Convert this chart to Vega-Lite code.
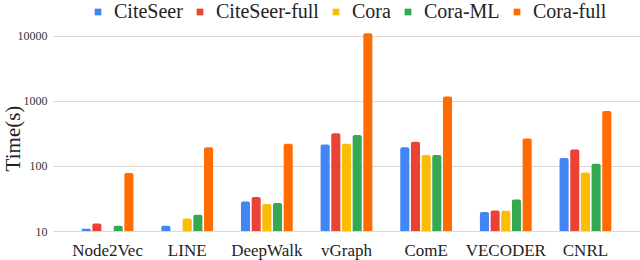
{
  "$schema": "https://vega.github.io/schema/vega-lite/v6.json",
  "width": 587,
  "height": 198,
  "autosize": {"type": "none"},
  "padding": {"left": 53, "top": 33, "right": 0, "bottom": 29},
  "background": "white",
  "config": {
    "view": {"stroke": null},
    "font": "Liberation Serif"
  },
  "data": {
    "values": [
      {"method": "Node2Vec", "dataset": "CiteSeer", "time": 10.8},
      {"method": "Node2Vec", "dataset": "CiteSeer-full", "time": 13},
      {"method": "Node2Vec", "dataset": "Cora", "time": 10},
      {"method": "Node2Vec", "dataset": "Cora-ML", "time": 12},
      {"method": "Node2Vec", "dataset": "Cora-full", "time": 78},
      {"method": "LINE", "dataset": "CiteSeer", "time": 12},
      {"method": "LINE", "dataset": "CiteSeer-full", "time": 10},
      {"method": "LINE", "dataset": "Cora", "time": 15.6},
      {"method": "LINE", "dataset": "Cora-ML", "time": 17.8},
      {"method": "LINE", "dataset": "Cora-full", "time": 194},
      {"method": "DeepWalk", "dataset": "CiteSeer", "time": 28.4},
      {"method": "DeepWalk", "dataset": "CiteSeer-full", "time": 33.2},
      {"method": "DeepWalk", "dataset": "Cora", "time": 26},
      {"method": "DeepWalk", "dataset": "Cora-ML", "time": 26.9},
      {"method": "DeepWalk", "dataset": "Cora-full", "time": 218},
      {"method": "vGraph", "dataset": "CiteSeer", "time": 213},
      {"method": "vGraph", "dataset": "CiteSeer-full", "time": 318},
      {"method": "vGraph", "dataset": "Cora", "time": 218},
      {"method": "vGraph", "dataset": "Cora-ML", "time": 297},
      {"method": "vGraph", "dataset": "Cora-full", "time": 10900},
      {"method": "ComE", "dataset": "CiteSeer", "time": 194},
      {"method": "ComE", "dataset": "CiteSeer-full", "time": 234},
      {"method": "ComE", "dataset": "Cora", "time": 147},
      {"method": "ComE", "dataset": "Cora-ML", "time": 147},
      {"method": "ComE", "dataset": "Cora-full", "time": 1160},
      {"method": "VECODER", "dataset": "CiteSeer", "time": 19.6},
      {"method": "VECODER", "dataset": "CiteSeer-full", "time": 20.7},
      {"method": "VECODER", "dataset": "Cora", "time": 20.5},
      {"method": "VECODER", "dataset": "Cora-ML", "time": 30.5},
      {"method": "VECODER", "dataset": "Cora-full", "time": 263},
      {"method": "CNRL", "dataset": "CiteSeer", "time": 132},
      {"method": "CNRL", "dataset": "CiteSeer-full", "time": 179},
      {"method": "CNRL", "dataset": "Cora", "time": 79},
      {"method": "CNRL", "dataset": "Cora-ML", "time": 108},
      {"method": "CNRL", "dataset": "Cora-full", "time": 700}
    ]
  },
  "mark": {"type": "bar", "cornerRadiusTopLeft": 2, "cornerRadiusTopRight": 2},
  "encoding": {
    "x": {
      "field": "method",
      "type": "nominal",
      "sort": ["Node2Vec", "LINE", "DeepWalk", "vGraph", "ComE", "VECODER", "CNRL"],
      "scale": {"paddingInner": 0.35, "paddingOuter": 0.36},
      "axis": {
        "title": null,
        "labelAngle": 0,
        "labelFont": "Liberation Serif",
        "labelFontSize": 17,
        "labelColor": "#222222",
        "labelPadding": 11,
        "ticks": false,
        "domain": false
      }
    },
    "xOffset": {
      "field": "dataset",
      "type": "nominal",
      "sort": ["CiteSeer", "CiteSeer-full", "Cora", "Cora-ML", "Cora-full"],
      "scale": {"paddingInner": 0.15}
    },
    "y": {
      "field": "time",
      "type": "quantitative",
      "stack": null,
      "scale": {"type": "log", "domain": [10, 11000], "nice": false},
      "axis": {
        "title": "Time(s)",
        "titleFont": "Liberation Serif",
        "titleFontSize": 21,
        "titleFontWeight": "normal",
        "titleColor": "#222222",
        "titleAngle": -90,
        "titleAlign": "center",
        "titleBaseline": "middle",
        "titleX": -40,
        "titleY": 105,
        "values": [10, 100, 1000, 10000],
        "format": "d",
        "labelFont": "Liberation Serif",
        "labelFontSize": 12,
        "labelColor": "#333333",
        "labelPadding": 6,
        "ticks": false,
        "domain": false,
        "grid": true,
        "gridColor": "#d9d9d9",
        "gridWidth": 1
      }
    },
    "color": {
      "field": "dataset",
      "type": "nominal",
      "sort": ["CiteSeer", "CiteSeer-full", "Cora", "Cora-ML", "Cora-full"],
      "scale": {
        "domain": ["CiteSeer", "CiteSeer-full", "Cora", "Cora-ML", "Cora-full"],
        "range": ["#4285F4", "#EA4335", "#FBBC04", "#34A853", "#FF6D01"]
      },
      "legend": {
        "title": null,
        "orient": "none",
        "direction": "horizontal",
        "legendX": 35,
        "legendY": -31,
        "symbolType": "square",
        "symbolSize": 45,
        "symbolStrokeWidth": 0,
        "labelFont": "Liberation Serif",
        "labelFontSize": 20,
        "labelColor": "#222222",
        "labelOffset": 6,
        "columnPadding": 7
      }
    }
  }
}
